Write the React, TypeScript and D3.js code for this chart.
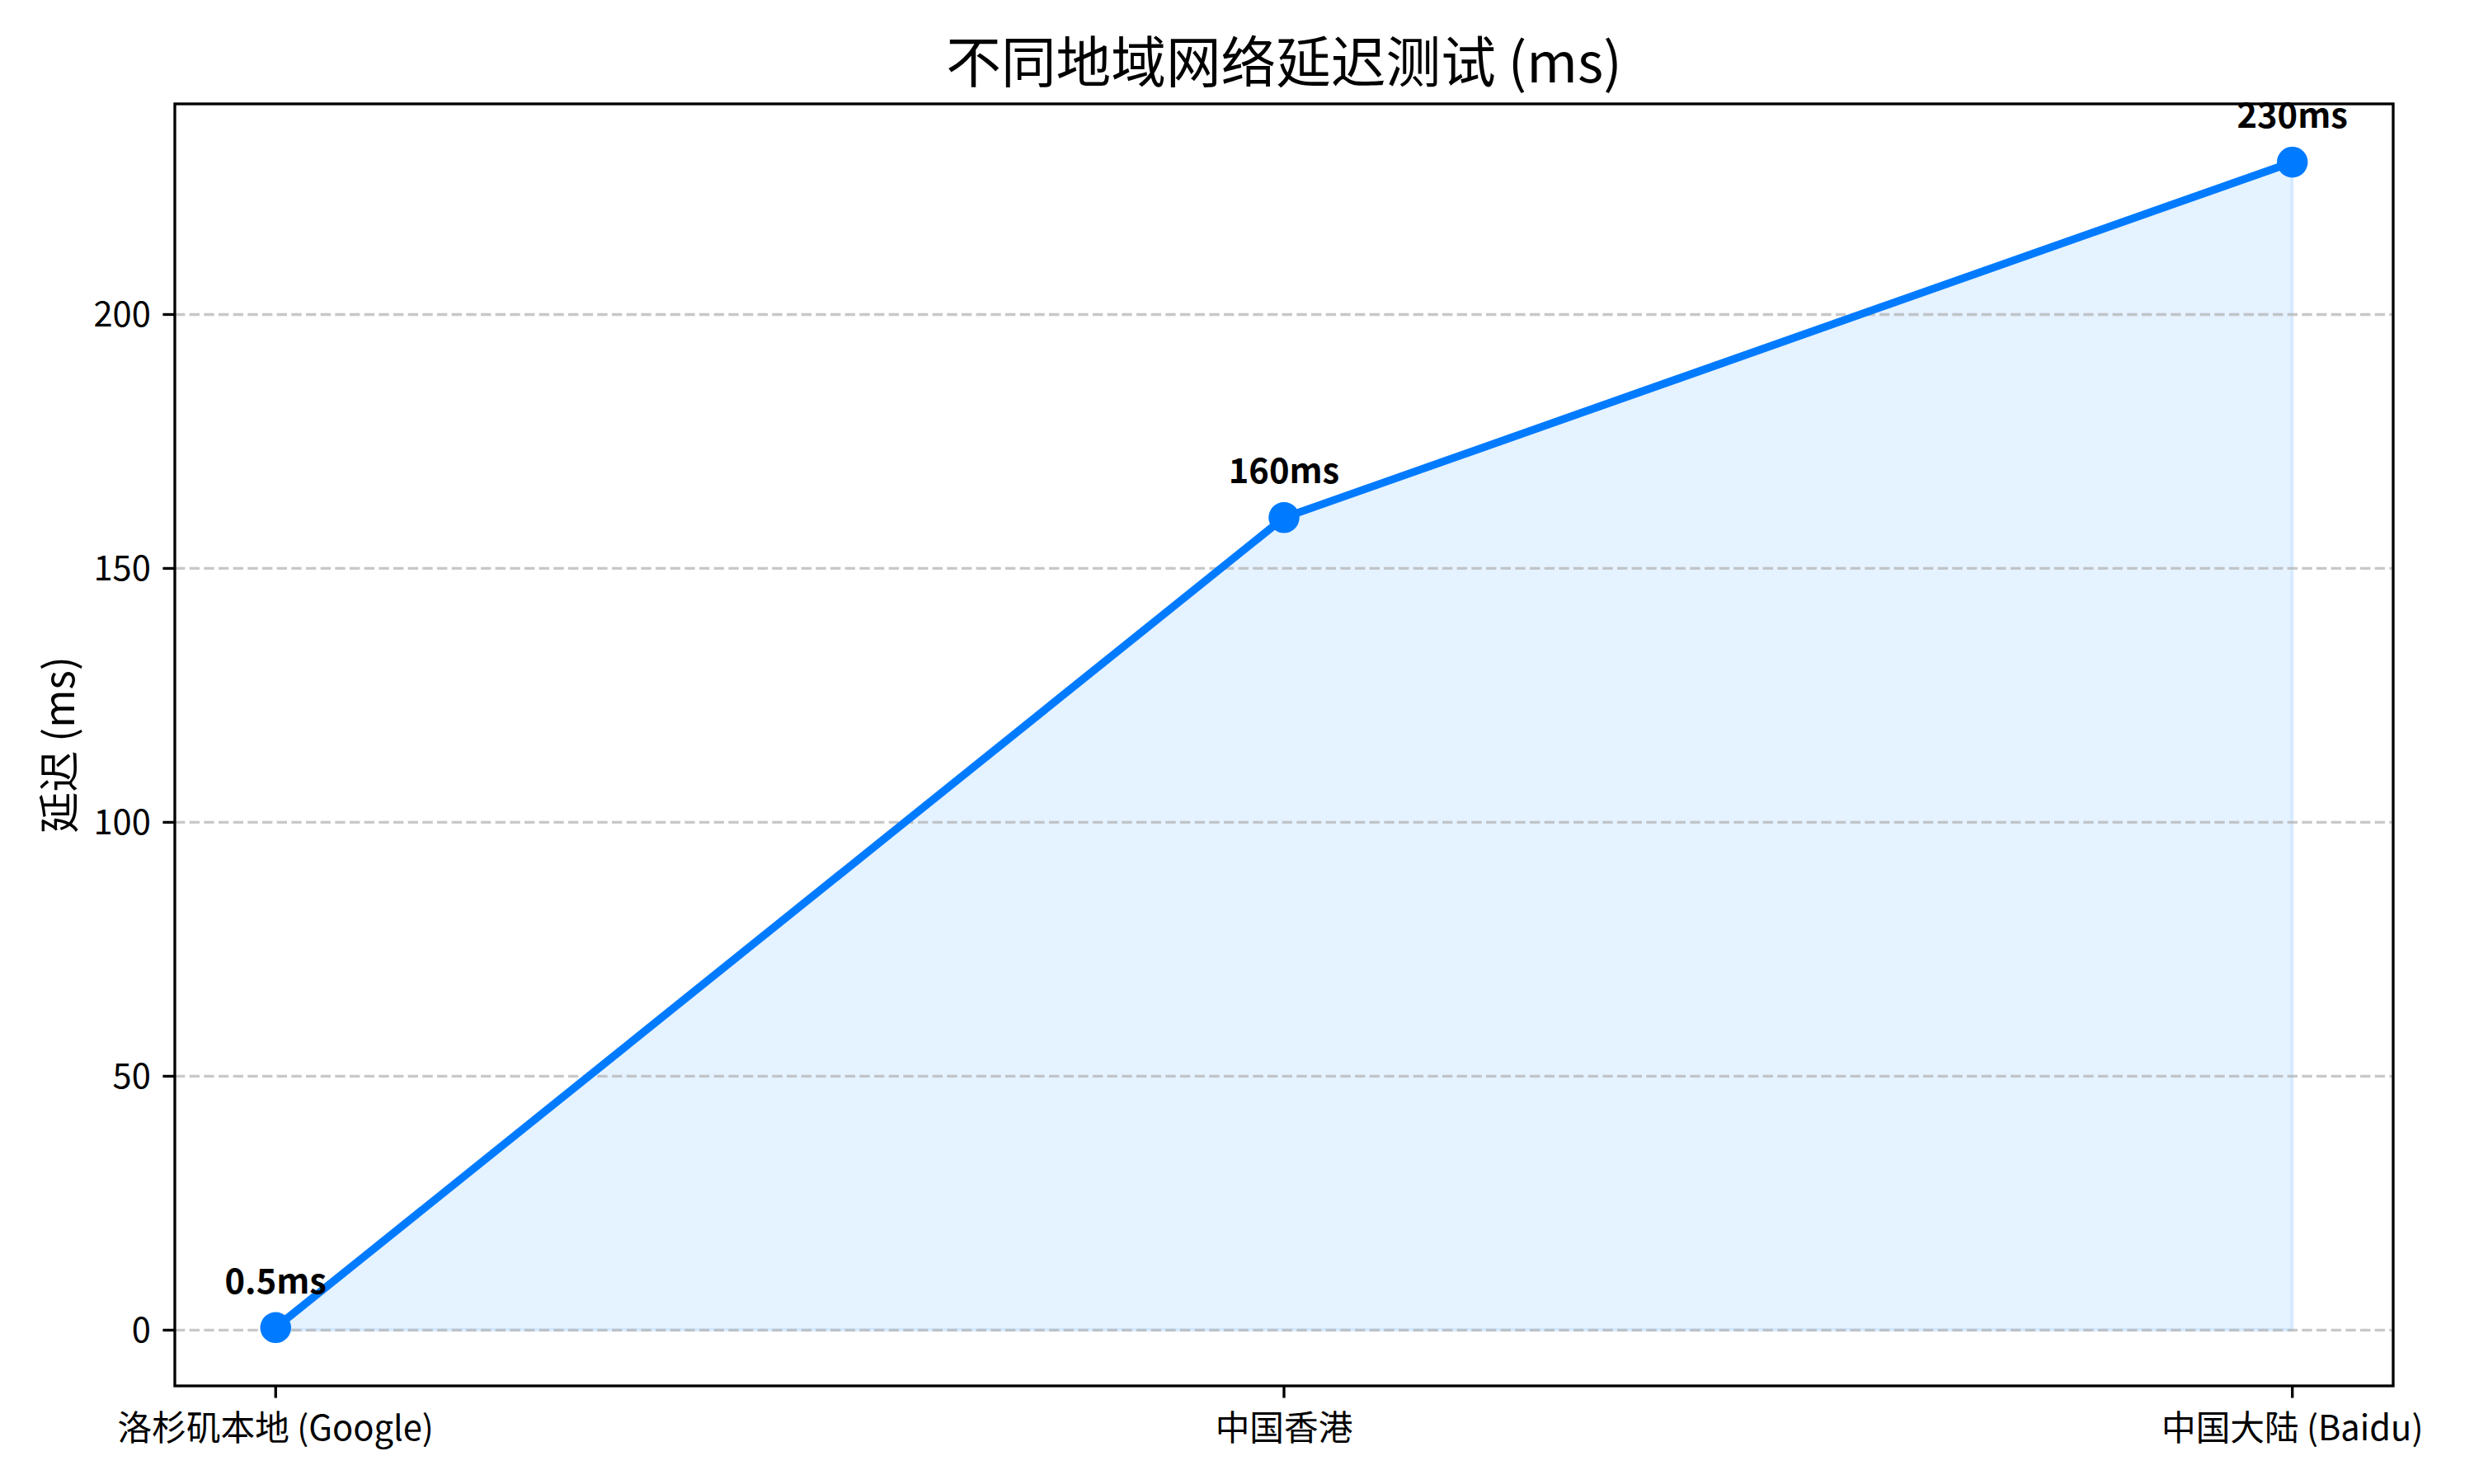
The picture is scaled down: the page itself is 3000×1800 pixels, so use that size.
import React from "react";
import * as d3 from "d3";

const categories = ["洛杉矶本地 (Google)", "中国香港", "中国大陆 (Baidu)"];
const latency = [0.5, 160, 230];
const pointLabels = ["0.5ms", "160ms", "230ms"];
const yTicks = [0, 50, 100, 150, 200];

const W = 3000;
const H = 1800;
const M = { left: 212, right: 2902, top: 126, bottom: 1681 };
const PT = 300 / 72;
const FONT = "'Noto Sans CJK SC', 'Noto Sans', sans-serif";
const BLUE = "#007BFF";

export default function App() {
  const idx = categories.map((_, i) => i);
  const x = d3.scaleLinear().domain([-0.1, 2.1]).range([M.left, M.right]);
  const ymin = d3.min(latency)!;
  const ymax = d3.max(latency)!;
  const pad = (ymax - ymin) * 0.05;
  const y = d3.scaleLinear().domain([ymin - pad, ymax + pad]).range([M.bottom, M.top]);

  const line = d3
    .line<number>()
    .x((_, i) => x(i))
    .y((d) => y(d));
  const area = d3
    .area<number>()
    .x((_, i) => x(i))
    .y0(() => y(0))
    .y1((d) => y(d));

  const tickLen = 3.5 * PT;
  const tickW = 0.8 * PT;
  const tickPad = 3.5 * PT;
  const fs = 10 * PT;

  return (
    <svg
      width={W}
      height={H}
      viewBox={`0 0 ${W} ${H}`}
      style={{ position: "absolute", left: 0, top: 0, display: "block", background: "#fff" }}
      fontFamily={FONT}
    >
      <rect x={0} y={0} width={W} height={H} fill="#fff" />
      {/* fill */}
      <path
        d={area(latency) || ""}
        fill={BLUE}
        fillOpacity={0.1}
        stroke={BLUE}
        strokeOpacity={0.1}
        strokeWidth={PT}
      />
      {/* grid */}
      {yTicks.map((t) => (
        <line
          key={"g" + t}
          x1={M.left}
          x2={M.right}
          y1={y(t)}
          y2={y(t)}
          stroke="#b0b0b0"
          strokeOpacity={0.7}
          strokeWidth={0.8 * PT}
          strokeDasharray={`${3.7 * 0.8 * PT} ${1.6 * 0.8 * PT}`}
        />
      ))}
      {/* line */}
      <path d={line(latency) || ""} fill="none" stroke={BLUE} strokeWidth={9.5} strokeLinejoin="round" />
      {latency.map((v, i) => (
        <circle key={"c" + i} cx={x(i)} cy={y(v)} r={18.75} fill={BLUE} />
      ))}
      {/* point labels */}
      {latency.map((v, i) => (
        <text
          key={"l" + i}
          x={x(i)}
          y={y(v) - 10 * PT}
          textAnchor="middle"
          fontSize={fs}
          fontWeight="bold"
          fill="#000"
        >
          {pointLabels[i]}
        </text>
      ))}
      {/* spines */}
      <rect
        x={M.left}
        y={M.top}
        width={M.right - M.left}
        height={M.bottom - M.top}
        fill="none"
        stroke="#000"
        strokeWidth={0.8 * PT}
      />
      {/* y ticks */}
      {yTicks.map((t) => (
        <g key={"yt" + t}>
          <line x1={M.left - tickLen} x2={M.left} y1={y(t)} y2={y(t)} stroke="#000" strokeWidth={tickW} />
          <text
            x={M.left - tickLen - tickPad}
            y={y(t) + 0.36 * fs}
            textAnchor="end"
            fontSize={fs}
            fill="#000"
          >
            {t}
          </text>
        </g>
      ))}
      {/* x ticks */}
      {idx.map((i) => (
        <g key={"xt" + i}>
          <line x1={x(i)} x2={x(i)} y1={M.bottom} y2={M.bottom + tickLen} stroke="#000" strokeWidth={tickW} />
          <text x={x(i)} y={M.bottom + tickLen + tickPad + 0.88 * fs} textAnchor="middle" fontSize={fs} fill="#000">
            {categories[i]}
          </text>
        </g>
      ))}
      {/* y label */}
      <text
        transform={`translate(68, ${(M.top + M.bottom) / 2}) rotate(-90)`}
        textAnchor="middle"
        dominantBaseline="central"
        fontSize={12 * PT}
        fill="#000"
      >
        延迟 (ms)
      </text>
      {/* title */}
      <text x={(M.left + M.right) / 2} y={100} textAnchor="middle" fontSize={16 * PT} fill="#000">
        不同地域网络延迟测试 (ms)
      </text>
    </svg>
  );
}
